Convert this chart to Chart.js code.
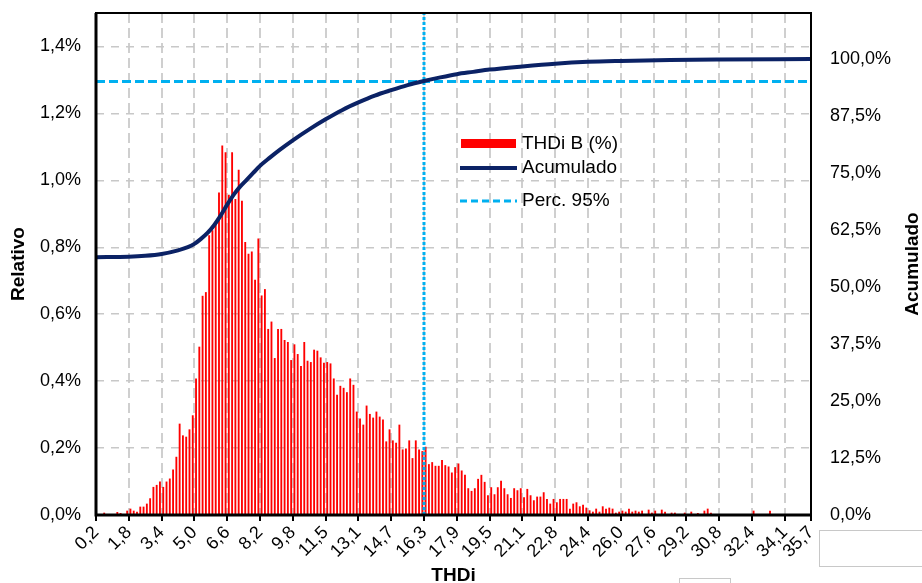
<!DOCTYPE html>
<html><head><meta charset="utf-8">
<script src="https://cdn.jsdelivr.net/npm/chart.js@4.4.1/dist/chart.umd.min.js"></script>
<style>
html,body{margin:0;padding:0;background:#fff;}
#wrap{position:relative;width:922px;height:583px;overflow:hidden;}
canvas{display:block;}
.box{position:absolute;border:1px solid #c8c8c8;background:#fff;}
</style></head><body>
<div id="wrap"><canvas id="c" width="922" height="583"></canvas>
<div class="box" style="left:819px;top:530px;width:110px;height:35px;"></div>
<div class="box" style="left:679px;top:578px;width:50px;height:12px;"></div>
</div>
<script>
// ---- data ----
const xTickLabels = ['0,2','1,8','3,4','5,0','6,6','8,2','9,8','11,5','13,1','14,7','16,3','17,9','19,5','21,1','22,8','24,4','26,0','27,6','29,2','30,8','32,4','34,1','35,7'];
const xTickBins = [0,10,20,30,40,50,60,70,80,90,100,110,120,130,140,150,160,170,180,190,200,210,218];
const binCount = 218;
// THDi B (%) relative frequency per bin (%)
const thdiB = [
0,0,0.006,0,0,0,0.008,0.005,0,0.012,
0.018,0.012,0.009,0.024,0.024,0.033,0.049,0.083,0.089,0.099,
0.083,0.099,0.108,0.135,0.173,0.272,0.237,0.233,0.255,0.297,
0.407,0.502,0.654,0.665,0.835,0.850,0.870,0.963,1.103,1.083,
0.956,1.083,0.943,1.031,0.938,0.815,0.780,0.786,0.702,0.825,
0.655,0.674,0.555,0.577,0.468,0.555,0.555,0.522,0.516,0.462,
0.509,0.480,0.444,0.516,0.460,0.456,0.493,0.490,0.470,0.454,
0.456,0.452,0.407,0.358,0.385,0.379,0.366,0.407,0.388,0.308,
0.287,0.269,0.326,0.301,0.290,0.308,0.293,0.284,0.219,0.255,
0.222,0.215,0.269,0.195,0.198,0.222,0.169,0.222,0.195,0.190,
0.203,0.151,0.157,0.146,0.146,0.163,0.148,0.144,0.126,0.142,
0.153,0.132,0.119,0.079,0.071,0.079,0.107,0.119,0.098,0.058,
0.082,0.061,0.082,0.101,0.079,0.061,0.050,0.079,0.073,0.079,
0.052,0.077,0.058,0.043,0.054,0.054,0.067,0.047,0.033,0.047,
0.037,0.047,0.047,0.047,0.018,0.033,0.037,0.025,0.030,0.021,
0.013,0.009,0.018,0.009,0.025,0.018,0.021,0.018,0.006,0.009,
0.012,0.009,0.018,0.009,0.012,0.009,0.012,0,0.015,0.006,
0.012,0,0.015,0.009,0,0.006,0.006,0,0,0.006,
0,0.009,0,0.005,0,0.012,0.018,0.006,0,0,
0,0,0,0,0,0,0,0,0,0,
0.012,0,0,0,0,0.012,0,0,0,0,
0,0,0,0,0,0,0,0
];
// Acumulado (%) read at these bin positions
const acumX = [0,10,15,20,25,28,30,32,34,36,38,40,42,44,46,48,50,53,56,60,65,70,75,80,85,90,95,100,105,110,115,120,130,140,150,160,175,190,218];
const acumY = [56.5,56.6,56.8,57.2,58.0,58.7,59.4,60.5,61.8,63.5,65.6,68.0,70.2,72.0,73.5,75.0,76.5,78.3,80.0,82.1,84.5,86.7,88.7,90.4,91.9,93.1,94.2,95.1,95.9,96.6,97.1,97.6,98.3,98.9,99.3,99.5,99.7,99.8,99.9];
const perc95 = 95;
const percBin = 100;
const seriesNames = ['THDi B (%)','Acumulado','Perc. 95%'];

// ---- chart ----
const FONT = "'Liberation Sans', Arial, sans-serif";
Chart.defaults.font.family = FONT;
Chart.defaults.color = '#000';
const RED = '#FF0000', NAVY = '#0B2265', CYAN = '#00B0F0';

const fmt = v => (Math.round(v*10)/10).toFixed(1).replace('.', ',') + '%';
const noPadV = s => { s.paddingTop = 0; s.paddingBottom = 0; };

const framePlugin = {
  id: 'frame',
  afterDraw(chart) {
    const {ctx, chartArea: a} = chart;
    ctx.save();
    ctx.strokeStyle = '#000';
    ctx.lineWidth = 2;
    ctx.strokeRect(a.left, a.top, a.right - a.left, a.bottom - a.top);
    ctx.lineWidth = 3;
    ctx.beginPath();
    ctx.moveTo(a.left, a.top); ctx.lineTo(a.left, a.bottom + 1.5);
    ctx.moveTo(a.left - 1.5, a.bottom); ctx.lineTo(a.right + 1, a.bottom);
    ctx.stroke();
    // axis titles
    ctx.fillStyle = '#000';
    ctx.font = "bold 19px " + FONT;
    ctx.textAlign = 'center'; ctx.textBaseline = 'middle';
    const cy = (a.top + a.bottom) / 2;
    ctx.save(); ctx.translate(19, cy); ctx.rotate(-Math.PI/2); ctx.fillText('Relativo', 0, 0); ctx.restore();
    ctx.save(); ctx.translate(913, cy); ctx.rotate(-Math.PI/2); ctx.fillText('Acumulado', 0, 0); ctx.restore();
    ctx.fillText('THDi', (a.left + a.right)/2, 576);
    // legend
    const ds = chart.data.datasets;
    ctx.font = "19px " + FONT;
    ctx.textAlign = 'left';
    const lx = 461, tx = 522;
    ctx.fillStyle = ds[0].backgroundColor;
    ctx.fillRect(lx, 139, 55, 9);
    ctx.fillStyle = '#000';
    ctx.fillText(ds[0].label, tx, 144);
    ctx.strokeStyle = ds[1].borderColor; ctx.lineWidth = 4; ctx.setLineDash([]);
    ctx.beginPath(); ctx.moveTo(lx - 1, 168); ctx.lineTo(lx + 56, 168); ctx.stroke();
    ctx.fillText(ds[1].label, tx, 168);
    ctx.strokeStyle = ds[2].borderColor; ctx.lineWidth = 3; ctx.setLineDash([7,4]);
    ctx.beginPath(); ctx.moveTo(lx - 1, 201); ctx.lineTo(lx + 56, 201); ctx.stroke();
    ctx.setLineDash([]);
    ctx.fillText(ds[2].label, tx, 201);
    ctx.restore();
  }
};

new Chart(document.getElementById('c'), {
  type: 'bar',
  data: {
    datasets: [
      { type: 'bar', label: seriesNames[0], data: thdiB.map((v,k)=>({x:k+0.5, y:v})),
        backgroundColor: RED, barThickness: 1.2, yAxisID: 'y', order: 4 },
      { type: 'line', label: seriesNames[1], data: acumX.map((b,i)=>({x:b, y:acumY[i]})),
        borderColor: NAVY, borderWidth: 4, pointRadius: 0, cubicInterpolationMode: 'monotone',
        yAxisID: 'y2', order: 1 },
      { type: 'line', label: seriesNames[2], data: [{x:0,y:perc95},{x:binCount,y:perc95}],
        borderColor: CYAN, borderWidth: 3, borderDash: [9,4], pointRadius: 0, yAxisID: 'y2', order: 2 },
      { type: 'line', label: '', data: [{x:percBin,y:0},{x:percBin,y:110}],
        borderColor: CYAN, borderWidth: 3, borderDash: [3,2], pointRadius: 0, yAxisID: 'y2', order: 3 }
    ]
  },
  options: {
    responsive: false, animation: false,
    layout: { padding: { top: 13, left: 0, right: 0, bottom: 0 } },
    plugins: { legend: { display: false }, tooltip: { enabled: false } },
    scales: {
      x: {
        type: 'linear', min: 0, max: binCount, offset: false,
        afterBuildTicks: s => { s.ticks = xTickBins.map(v => ({value: v})); },
        afterFit: s => { s.height = 68; s.paddingLeft = 0; s.paddingRight = 0; },
        ticks: { autoSkip: false, maxRotation: 45, minRotation: 45, padding: 1,
                 font: { size: 18 }, color: '#000',
                 callback: (v, i) => xTickLabels[i] },
        grid: { color: '#CFCFCF', lineWidth: 2, drawTicks: true, tickLength: 6, offset: false,
                tickColor: '#000', tickWidth: 2 },
        border: { display: false, dash: [10,5] }
      },
      y: {
        position: 'left', min: 0, max: 1.5,
        afterFit: s => { s.width = 96; noPadV(s); },
        ticks: { stepSize: 0.2, includeBounds: false, padding: 15, font: { size: 18 }, color: '#000',
                 callback: v => fmt(v) },
        grid: { color: '#C8C8C8', lineWidth: 1.5, drawTicks: false },
        border: { display: false, dash: [8,7] }
      },
      y2: {
        position: 'right', min: 0, max: 110,
        afterFit: s => { s.width = 111; noPadV(s); },
        ticks: { stepSize: 12.5, includeBounds: false, padding: 19, font: { size: 18 }, color: '#000',
                 callback: v => fmt(v) },
        grid: { drawOnChartArea: false, drawTicks: false },
        border: { display: false }
      }
    }
  },
  plugins: [framePlugin]
});
</script>
</body></html>
